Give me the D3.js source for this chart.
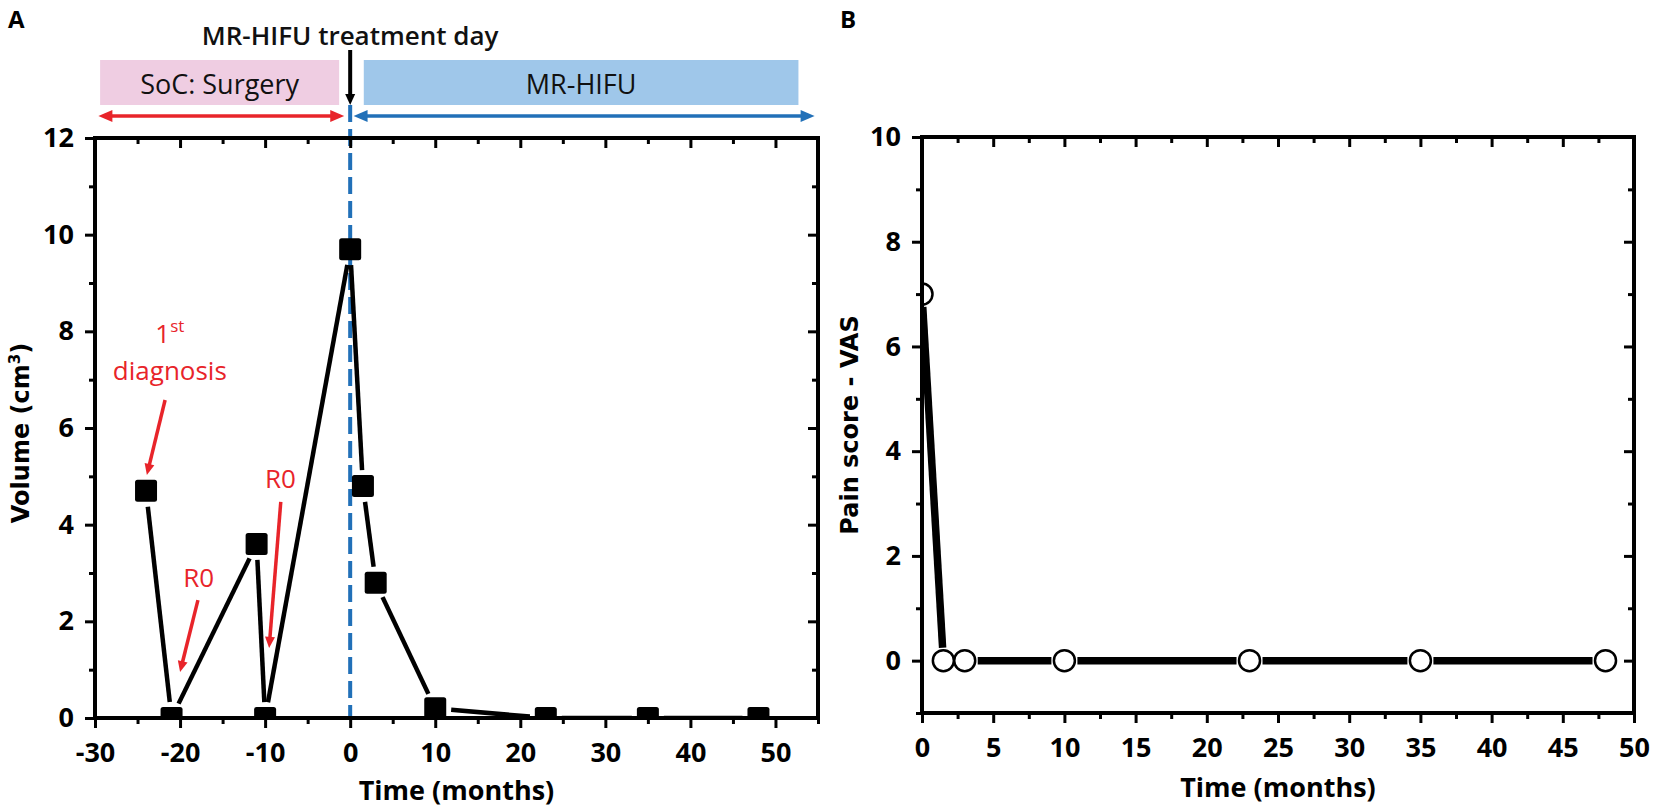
<!DOCTYPE html>
<html lang="en">
<head>
<meta charset="UTF-8">
<title>MR-HIFU: volume and pain score over time</title>
<script src="https://d3js.org/d3.v7.min.js"></script>
<style>
  body { margin: 0; padding: 0; background: #fff; }
  svg { display: block; }
  .tick text { font-family: "Open Sans", sans-serif; font-weight: 700; font-size: 27px; fill: #000; }
  .tick line { stroke: #000; stroke-width: 3; }
  .domain { display: none; }
  .ylab { font-family: "DejaVu Sans", sans-serif; font-weight: bold; font-size: 24px; }
  .xlab { font-family: "Open Sans", sans-serif; font-weight: 700; font-size: 27px; }
  .panel { font-family: "Open Sans", sans-serif; font-weight: 700; font-size: 24px; }
  .note { font-family: "Open Sans", sans-serif; font-size: 26px; fill: #e8242a; }
  .hdr { font-family: "Open Sans", sans-serif; font-size: 27px; fill: #111; }
</style>
</head>
<body>
<script>
// panel A: lesion volume (cm3) vs time (months)
const volTime = [-24, -21, -11, -10, 0, 1.5, 3, 10, 23, 35, 48];
const volume  = [4.7, 0, 3.6, 0, 9.7, 4.8, 2.8, 0.2, 0, 0, 0];

// panel B: pain score (VAS) vs time (months)
const painTime = [0, 1.5, 3, 10, 23, 35, 48];
const pain     = [7, 0, 0, 0, 0, 0, 0];

// ticks
const volXTicks  = [-30, -20, -10, 0, 10, 20, 30, 40, 50];
const volXMinor  = [-25, -15, -5, 5, 15, 25, 35, 45, 55];
const volYTicks  = [0, 2, 4, 6, 8, 10, 12];
const volYMinor  = [1, 3, 5, 7, 9, 11];
const painXTicks = [0, 5, 10, 15, 20, 25, 30, 35, 40, 45, 50];
const painXMinor = [2.5, 7.5, 12.5, 17.5, 22.5, 27.5, 32.5, 37.5, 42.5, 47.5];
const painYTicks = [0, 2, 4, 6, 8, 10];
const painYMinor = [-1, 1, 3, 5, 7, 9];

const RED = "#e8242a", BLUE = "#2170b8";

const svg = d3.select("body").append("svg")
  .attr("width", 1654).attr("height", 811);

// scales
const xA = d3.scaleLinear().domain([-30, 55]).range([95, 818]);
const yA = d3.scaleLinear().domain([0, 12]).range([718, 138]);
const xB = d3.scaleLinear().domain([0, 50]).range([922, 1634]);
const yB = d3.scaleLinear().domain([-1, 10]).range([713, 137]);

const defs = svg.append("defs");
function clip(id, x, y) {
  defs.append("clipPath").attr("id", id).append("rect")
    .attr("x", x.range()[0]).attr("y", y.range()[1])
    .attr("width", x.range()[1] - x.range()[0])
    .attr("height", y.range()[0] - y.range()[1]);
}
clip("clipA", xA, yA);
clip("clipB", xB, yB);

function axes(x, y, xMaj, xMin, yMaj, yMin) {
  const g = svg.append("g");
  const b = y.range()[0], t = y.range()[1], l = x.range()[0], r = x.range()[1];
  g.append("g").attr("transform", `translate(0,${b})`)
    .call(d3.axisBottom(x).tickValues(xMaj).tickSize(10).tickPadding(15).tickFormat(d => d));
  g.append("g").attr("transform", `translate(0,${b})`)
    .call(d3.axisBottom(x).tickValues(xMin).tickSize(6).tickFormat(""));
  g.append("g").attr("transform", `translate(0,${t})`)
    .call(d3.axisTop(x).tickValues(xMaj).tickSize(-10).tickFormat(""));
  g.append("g").attr("transform", `translate(0,${t})`)
    .call(d3.axisTop(x).tickValues(xMin).tickSize(-6).tickFormat(""));
  g.append("g").attr("transform", `translate(${l},0)`)
    .call(d3.axisLeft(y).tickValues(yMaj).tickSize(10).tickPadding(11).tickFormat(d => d));
  g.append("g").attr("transform", `translate(${l},0)`)
    .call(d3.axisLeft(y).tickValues(yMin).tickSize(6).tickFormat(""));
  g.append("g").attr("transform", `translate(${r},0)`)
    .call(d3.axisRight(y).tickValues(yMaj).tickSize(-10).tickFormat(""));
  g.append("g").attr("transform", `translate(${r},0)`)
    .call(d3.axisRight(y).tickValues(yMin).tickSize(-6).tickFormat(""));
  return g;
}

function frame(x, y) {
  svg.append("rect")
    .attr("x", x.range()[0]).attr("y", y.range()[1])
    .attr("width", x.range()[1] - x.range()[0])
    .attr("height", y.range()[0] - y.range()[1])
    .attr("fill", "none").attr("stroke", "#000").attr("stroke-width", 4);
}

// segments between points, cut back near markers (Origin-style gaps)
function gapped(pts, gap) {
  const segs = [];
  for (let i = 0; i < pts.length - 1; i++) {
    const [x1, y1] = pts[i], [x2, y2] = pts[i + 1];
    const dx = x2 - x1, dy = y2 - y1, len = Math.hypot(dx, dy);
    if (len <= 2 * gap) continue;
    const ux = dx / len, uy = dy / len;
    segs.push([x1 + ux * gap, y1 + uy * gap, x2 - ux * gap, y2 - uy * gap]);
  }
  return segs;
}

function arrow(g, x1, y1, x2, y2, color, w, hl, hw, both) {
  const len = Math.hypot(x2 - x1, y2 - y1), ux = (x2 - x1) / len, uy = (y2 - y1) / len;
  const px = -uy, py = ux;
  const sx = both ? x1 + ux * hl * 0.8 : x1, sy = both ? y1 + uy * hl * 0.8 : y1;
  g.append("line")
    .attr("x1", sx).attr("y1", sy)
    .attr("x2", x2 - ux * hl * 0.8).attr("y2", y2 - uy * hl * 0.8)
    .attr("stroke", color).attr("stroke-width", w);
  const head = (tx, ty, dx, dy) => {
    const bx = tx - dx * hl, by = ty - dy * hl;
    g.append("path")
      .attr("d", `M${tx},${ty}L${bx + px * hw},${by + py * hw}L${bx - px * hw},${by - py * hw}Z`)
      .attr("fill", color);
  };
  head(x2, y2, ux, uy);
  if (both) head(x1, y1, -ux, -uy);
}

// ---------------- panel A ----------------
const gA = svg.append("g");

// header boxes
gA.append("rect").attr("x", xA(-29.4)).attr("y", 60)
  .attr("width", xA(-1.3) - xA(-29.4)).attr("height", 45).attr("fill", "#efcde2");
gA.append("rect").attr("x", xA(1.6)).attr("y", 60)
  .attr("width", xA(52.7) - xA(1.6)).attr("height", 45).attr("fill", "#9fc7ea");
gA.append("text").attr("class", "hdr").attr("x", (xA(-29.4) + xA(-1.3)) / 2).attr("y", 94)
  .attr("text-anchor", "middle").text("SoC: Surgery");
gA.append("text").attr("class", "hdr").attr("x", (xA(1.6) + xA(52.7)) / 2).attr("y", 94)
  .attr("text-anchor", "middle").text("MR-HIFU");
gA.append("text").attr("class", "hdr").attr("x", xA(0)).attr("y", 45)
  .attr("text-anchor", "middle").style("font-size", "26px").style("font-weight", 600)
  .text("MR-HIFU treatment day");

arrow(gA, xA(-29.6), 116, xA(-0.7), 116, RED, 3.5, 14, 6, true);
arrow(gA, xA(0.4), 116, xA(54.6), 116, BLUE, 3.5, 14, 6, true);
arrow(gA, xA(0), 50, xA(0), 105, "#000", 4, 11, 5, false);

// treatment day line
gA.append("line")
  .attr("x1", xA(0)).attr("x2", xA(0)).attr("y1", 105).attr("y2", yA(0))
  .attr("stroke", BLUE).attr("stroke-width", 4).attr("stroke-dasharray", "17,7");

axes(xA, yA, volXTicks, volXMinor, volYTicks, volYMinor);

const dataA = svg.append("g").attr("clip-path", "url(#clipA)");
const ptsA = volTime.map((t, i) => [xA(t), yA(volume[i])]);
dataA.selectAll("line.seg").data(gapped(ptsA, 16)).join("line")
  .attr("class", "seg")
  .attr("x1", d => d[0]).attr("y1", d => d[1]).attr("x2", d => d[2]).attr("y2", d => d[3])
  .attr("stroke", "#000").attr("stroke-width", 4.5);
dataA.selectAll("rect.pt").data(ptsA).join("rect")
  .attr("class", "pt")
  .attr("x", d => d[0] - 11).attr("y", d => d[1] - 11)
  .attr("width", 22).attr("height", 22).attr("rx", 2.5).attr("fill", "#000");

frame(xA, yA);

// annotations
const n1 = gA.append("text").attr("class", "note")
  .attr("x", xA(-21.2)).attr("y", yA(7.76)).attr("text-anchor", "middle");
n1.append("tspan").text("1");
n1.append("tspan").attr("dy", -11).style("font-size", "17px").text("st");
gA.append("text").attr("class", "note")
  .attr("x", xA(-21.2)).attr("y", yA(7.0)).attr("text-anchor", "middle").text("diagnosis");
arrow(gA, xA(-21.76), yA(6.58), xA(-23.9), yA(5.03), RED, 3.5, 11, 5, false);

gA.append("text").attr("class", "note")
  .attr("x", xA(-17.8)).attr("y", yA(2.71)).attr("text-anchor", "middle").text("R0");
arrow(gA, xA(-17.9), yA(2.44), xA(-20.0), yA(0.95), RED, 3.5, 11, 5, false);

gA.append("text").attr("class", "note")
  .attr("x", xA(-8.2)).attr("y", yA(4.76)).attr("text-anchor", "middle").text("R0");
arrow(gA, xA(-8.16), yA(4.47), xA(-9.53), yA(1.45), RED, 3.5, 11, 5, false);

// axis titles
const vl = svg.append("text").attr("class", "ylab")
  .attr("transform", `translate(29,${(yA(0) + yA(12)) / 2 + 5}) rotate(-90)`)
  .attr("text-anchor", "middle");
vl.append("tspan").text("Volume (cm");
vl.append("tspan").attr("dy", -9).style("font-size", "15px").text("3");
vl.append("tspan").attr("dy", 9).text(")");

svg.append("text").attr("class", "xlab")
  .attr("x", (xA.range()[0] + xA.range()[1]) / 2).attr("y", 800)
  .attr("text-anchor", "middle").text("Time (months)");

svg.append("text").attr("class", "panel").attr("x", 8).attr("y", 28).text("A");

// ---------------- panel B ----------------
axes(xB, yB, painXTicks, painXMinor, painYTicks, painYMinor);

const dataB = svg.append("g").attr("clip-path", "url(#clipB)");
const ptsB = painTime.map((t, i) => [xB(t), yB(pain[i])]);
dataB.selectAll("line.seg").data(gapped(ptsB, 13)).join("line")
  .attr("class", "seg")
  .attr("x1", d => d[0]).attr("y1", d => d[1]).attr("x2", d => d[2]).attr("y2", d => d[3])
  .attr("stroke", "#000").attr("stroke-width", 7.5);
dataB.selectAll("circle").data(ptsB).join("circle")
  .attr("cx", d => d[0]).attr("cy", d => d[1]).attr("r", 10.5)
  .attr("fill", "#fff").attr("stroke", "#000").attr("stroke-width", 2.5);

frame(xB, yB);

svg.append("text").attr("class", "ylab")
  .attr("transform", `translate(858,${(yB(-1) + yB(10)) / 2}) rotate(-90)`)
  .attr("text-anchor", "middle").text("Pain score - VAS");

svg.append("text").attr("class", "xlab")
  .attr("x", (xB.range()[0] + xB.range()[1]) / 2).attr("y", 797)
  .attr("text-anchor", "middle").text("Time (months)");

svg.append("text").attr("class", "panel").attr("x", 840).attr("y", 28).text("B");
</script>
</body>
</html>
